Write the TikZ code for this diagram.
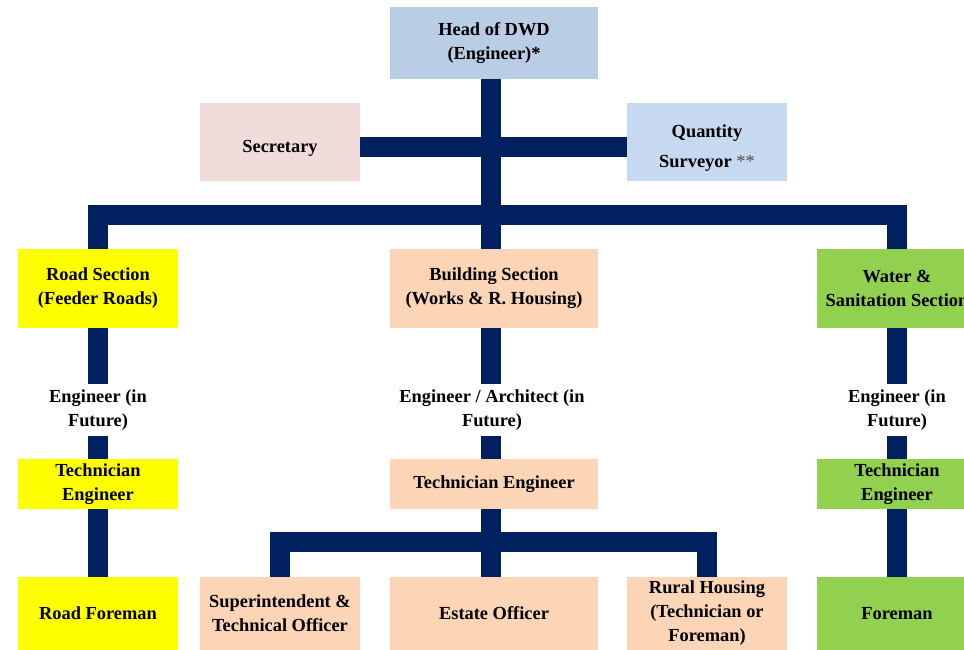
\documentclass[tikz,border=0pt]{standalone}
\usepackage{fontspec}
\setmainfont{Liberation Serif}
\begin{document}
\begin{tikzpicture}[x=1pt,y=-1pt,
  box/.style={rectangle,draw=none,inner sep=0pt,align=center,font=\fontsize{18.4}{24}\selectfont\bfseries},
  lab/.style={rectangle,fill=white,inner sep=0pt,minimum height=52pt,align=center,font=\fontsize{18.4}{24}\selectfont\bfseries},
  bar/.style={draw=navy,line width=20pt,line cap=butt,line join=miter}]
\definecolor{navy}{HTML}{002060}
\definecolor{headc}{HTML}{B9CDE5}
\definecolor{secc}{HTML}{F2DCDB}
\definecolor{qsc}{HTML}{C6D9F1}
\definecolor{yel}{HTML}{FFFF00}
\definecolor{peach}{HTML}{FBD5B5}
\definecolor{grn}{HTML}{92D050}
\useasboundingbox (0,0) rectangle (964,650);
% nodes
\node[box,fill=headc,minimum width=208pt,minimum height=72pt] (head) at (494,43) {Head of DWD\\(Engineer)*};
\node[box,fill=secc,minimum width=160pt,minimum height=78pt] (sec) at (280,142) {\raisebox{-6pt}[\height][\depth]{Secretary}};
\node[box,fill=qsc,minimum width=160pt,minimum height=78pt] (qs) at (707,142) {\raisebox{-6pt}[\height][\depth]{\begin{tabular}{@{}c@{}}Quantity\\[6pt]Surveyor {\mdseries\color{black!70}**}\end{tabular}}};
\node[box,fill=yel,minimum width=160pt,minimum height=79pt] (road) at (98,288.5) {Road Section\\(Feeder Roads)};
\node[box,fill=peach,minimum width=208pt,minimum height=79pt] (build) at (494,288.5) {Building Section\\(Works \& R. Housing)};
\node[box,fill=grn,minimum width=160pt,minimum height=79pt] (water) at (897,288.5) {Water \&\\Sanitation Section};
\node[box,fill=yel,minimum width=160pt,minimum height=50pt] (tech1) at (98,484) {Technician\\Engineer};
\node[box,fill=peach,minimum width=208pt,minimum height=50pt] (tech2) at (494,484) {Technician Engineer};
\node[box,fill=grn,minimum width=160pt,minimum height=50pt] (tech3) at (897,484) {Technician\\Engineer};
\node[box,fill=yel,minimum width=160pt,minimum height=73pt] (fore1) at (98,613.5) {Road Foreman};
\node[box,fill=peach,minimum width=160pt,minimum height=73pt] (sup) at (280,613.5) {Superintendent \&\\Technical Officer};
\node[box,fill=peach,minimum width=208pt,minimum height=73pt] (estate) at (494,613.5) {Estate Officer};
\node[box,fill=peach,minimum width=160pt,minimum height=73pt] (rural) at (707,613.5) {Rural Housing\\(Technician or\\Foreman)};
\node[box,fill=grn,minimum width=160pt,minimum height=73pt] (fore3) at (897,613.5) {Foreman};
% connectors
\coordinate (hb) at (491,215);
\coordinate (bb) at (491,542);
\draw[bar] ([xshift=-3pt]head.south) -- ([xshift=-3pt]build.north);
\draw[bar] ([yshift=-5pt]sec.east) -- ([yshift=-5pt]qs.west);
\draw[bar] (road.north) |- (hb) -| (water.north);
\draw[bar] (road.south) -- (tech1.north);
\draw[bar] (tech1.south) -- (fore1.north);
\draw[bar] ([xshift=-3pt]build.south) -- ([xshift=-3pt]tech2.north);
\draw[bar] ([xshift=-3pt]tech2.south) -- ([xshift=-3pt]estate.north);
\draw[bar] (sup.north) |- (bb) -| (rural.north);
\draw[bar] (water.south) -- (tech3.north);
\draw[bar] (tech3.south) -- (fore3.north);
% labels over the bars
\node[lab] (lab1) at (98,410) {Engineer (in\\Future)};
\node[lab] (lab2) at (492,410) {Engineer / Architect (in\\Future)};
\node[lab] (lab3) at (897,410) {Engineer (in\\Future)};
\end{tikzpicture}
\end{document}
